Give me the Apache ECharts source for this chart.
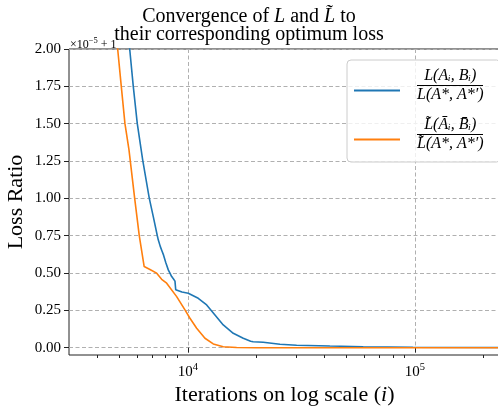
<!DOCTYPE html>
<html><head><meta charset="utf-8">
<script src="https://cdn.jsdelivr.net/npm/echarts@6/dist/echarts.min.js"></script>
<style>html,body{margin:0;padding:0;background:#fff}#c{width:498px;height:406px}</style>
</head><body><div id="c"></div>
<script>
// ---- data (y values are in units of 1e-5, offset +1) ----
const yTicks = [0, 0.25, 0.5, 0.75, 1.0, 1.25, 1.5, 1.75, 2.0];
const xMajorTicks = [1e4, 1e5];
const xMinorTicks = [4000, 5000, 6000, 7000, 8000, 9000, 20000, 30000, 40000, 50000, 60000, 70000, 80000, 90000, 200000];
const xMin = 3000, xMax = 237000;
const yMin = -0.049, yMax = 2.0;

const blueIter = [5076, 5551, 5756, 5995, 6331, 6768, 7050, 7340, 7415, 7560, 7700, 7802, 8000, 8208, 8349, 8495, 8640, 8784, 8828, 8850, 8937, 9430, 10051, 11122, 12113, 13177, 14330, 15861, 17553, 18914, 19400, 21490, 25460, 30150, 42250, 59200, 98000, 237000];
const blueLoss = [2.5, 2.0, 1.75, 1.5, 1.258, 1.001, 0.878, 0.751, 0.722, 0.68, 0.648, 0.625, 0.57, 0.521, 0.499, 0.476, 0.462, 0.446, 0.44, 0.388, 0.382, 0.373, 0.365, 0.331, 0.286, 0.219, 0.152, 0.0965, 0.063, 0.043, 0.040, 0.036, 0.023, 0.016, 0.011, 0.0067, 0.003, 0.001];

const orangeIter = [4494, 4914, 5097, 5290, 5511, 5838, 6116, 6428, 6816, 7296, 7676, 8075, 8937, 9720, 10226, 10944, 11905, 12950, 14330, 16414, 20000, 237000];
const orangeLoss = [2.5, 2.0, 1.75, 1.5, 1.325, 1.0, 0.751, 0.543, 0.524, 0.499, 0.458, 0.432, 0.342, 0.253, 0.197, 0.13, 0.063, 0.025, 0.0067, 0.001, 0.0, 0.0];

const seriesNames = ['L(Ai,Bi)/L(A*,A*\u2032)', 'L\u0303(\u0100i,B\u0304i)/L\u0303(A*,A*\u2032)'];
const legendTexts = [
  '{n|L(A\u1d62, B\u1d62)}\n{bar| }\n{d|L(A*, A*\u2032)}',
  '{n|L\u0303(A\u0304\u1d62, B\u0304\u1d62)}\n{bar| }\n{d|L\u0303(A*, A*\u2032)}'
];
const colors = ['#1f77b4', '#ff7f0e'];

// ---- chart ----
const serif = 'Liberation Serif';
const lg = v => Math.log10(v);
const chart = echarts.init(document.getElementById('c'), null, {renderer: 'canvas'});
const tickLine = {color: '#222', width: 1};
const gridLine = {color: '#b0b0b0', width: 1, type: [4, 2.5]};
const rSty = {fontFamily: serif, fontSize: 20, color: '#000', fontWeight: 'normal', lineHeight: 20};
const iSty = Object.assign({}, rSty, {fontStyle: 'italic'});
const legSty = {fontFamily: serif, fontStyle: 'italic', fontSize: 16, color: '#000', align: 'center', lineHeight: 16};

const option = {
  animation: false,
  backgroundColor: '#fff',
  title: [
    {text: '{r|Convergence of }{i|L}{r| and }{i|L\u0303}{r| to}', left: 'center', top: 7, padding: [0, 0, 0, 40],
     textStyle: {fontWeight: 'normal', rich: {r: rSty, i: iSty}}},
    {text: 'their corresponding optimum loss', left: 'center', top: 25, padding: [0, 0, 0, 58],
     textStyle: {fontFamily: serif, fontSize: 20, color: '#000', fontWeight: 'normal', lineHeight: 20}}
  ],
  grid: {left: 69, right: -2, top: 49, bottom: 51, show: true, borderColor: '#222', borderWidth: 1,
         backgroundColor: 'transparent', containLabel: false, outerBoundsMode: 'none'},
  legend: {
    orient: 'vertical', left: 347, top: 60, itemWidth: 46, itemHeight: 2, itemGap: 14, icon: 'rect',
    padding: [8, 17, 10, 7], backgroundColor: 'rgba(255,255,255,0.8)', borderColor: '#cccccc',
    borderWidth: 1, borderRadius: 4, selectedMode: false,
    data: seriesNames,
    formatter: name => legendTexts[seriesNames.indexOf(name)],
    textStyle: {
      padding: [0, 0, 10, 12],
      rich: {
        n: legSty,
        bar: {width: 66, height: 1, lineHeight: 3, fontSize: 1, backgroundColor: '#000'},
        d: legSty
      }
    }
  },
  graphic: [{
    type: 'text', left: 70, top: 36, z: 10,
    style: {text: '{a|\u00d710}{s|\u22125}{a| + 1}',
      rich: {a: {fontFamily: serif, fontSize: 12, fill: '#000'},
             s: {fontFamily: serif, fontSize: 8.5, fill: '#000', padding: [0, 0, 9, 0]}}}
  }],
  xAxis: [
    {type: 'value', min: lg(xMin), max: lg(xMax), position: 'bottom',
     axisLine: {show: false},
     axisTick: {show: true, customValues: xMajorTicks.map(lg), length: 5, lineStyle: tickLine},
     axisLabel: {customValues: xMajorTicks.map(lg), margin: 7,
       formatter: v => '{b|10}{s|' + Math.round(v) + '}',
       rich: {b: {fontFamily: serif, fontSize: 15, color: '#000'},
              s: {fontFamily: serif, fontSize: 10.5, color: '#000', padding: [0, 0, 9, 0]}}},
     splitLine: {show: true, lineStyle: gridLine},
     name: '{r|Iterations on log scale (}{i|i}{r|)}', nameLocation: 'middle', nameGap: 20,
     nameTextStyle: {rich: {r: {fontFamily: serif, fontSize: 22, color: '#000'}, i: {fontFamily: serif, fontSize: 22, fontStyle: 'italic', color: '#000'}}}
    },
    {type: 'value', min: lg(xMin), max: lg(xMax), position: 'bottom',
     axisLine: {show: false},
     axisTick: {show: true, customValues: xMinorTicks.map(lg), length: 3, lineStyle: tickLine},
     axisLabel: {show: false}, splitLine: {show: false}}
  ],
  yAxis: {
    type: 'value', min: yMin, max: yMax,
    axisLine: {show: false},
    axisTick: {show: true, customValues: yTicks, length: 5, lineStyle: tickLine},
    axisLabel: {customValues: yTicks, formatter: v => v.toFixed(2), margin: 8, fontFamily: serif, fontSize: 15, color: '#000'},
    splitLine: {show: true, lineStyle: gridLine},
    name: 'Loss Ratio', nameLocation: 'middle', nameGap: 42, nameMoveOverlap: false,
    nameTextStyle: {fontFamily: serif, fontSize: 22, color: '#000'}
  },
  series: [
    {type: 'line', name: seriesNames[0], xAxisIndex: 0, yAxisIndex: 0,
     data: blueIter.map((v, k) => [lg(v), blueLoss[k]]),
     symbol: 'none', showSymbol: false, clip: true,
     lineStyle: {color: colors[0], width: 1.6}, itemStyle: {color: colors[0]}},
    {type: 'line', name: seriesNames[1], xAxisIndex: 0, yAxisIndex: 0,
     data: orangeIter.map((v, k) => [lg(v), orangeLoss[k]]),
     symbol: 'none', showSymbol: false, clip: true,
     lineStyle: {color: colors[1], width: 1.6}, itemStyle: {color: colors[1]}}
  ]
};
chart.setOption(option);
</script></body></html>
